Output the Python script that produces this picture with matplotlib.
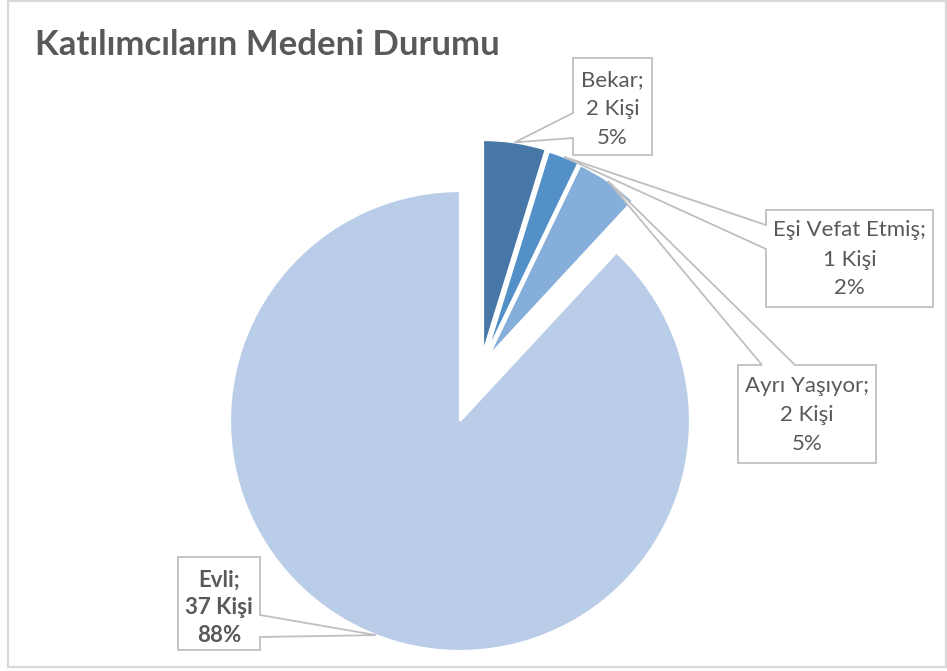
import numpy as np
import matplotlib
matplotlib.use("Agg")
import matplotlib.pyplot as plt
from matplotlib.patches import Polygon, Rectangle

# ---- data ----
categories = ["Bekar", "Eşi Vefat Etmiş", "Ayrı Yaşıyor", "Evli"]
counts = [2, 1, 2, 37]
percent_labels = ["5%", "2%", "5%", "88%"]
title = "Katılımcıların Medeni Durumu"

colors = ["#4677a7", "#5490c8", "#86aedb", "#b9cde8"]

W, H = 947, 671
def Y(y):
    return H - y

fig = plt.figure(figsize=(W / 100, H / 100), dpi=100)
ax = fig.add_axes([0, 0, 1, 1])
ax.set_xlim(0, W)
ax.set_ylim(0, H)
ax.set_aspect("equal")
ax.axis("off")

FONT = "Lato"
TXT = "#595959"
EDGE = "#bfbfbf"

# chart border
ax.add_patch(Rectangle((8, Y(667)), 938, 666, fill=False, edgecolor="#d9d9d9", lw=1.6, zorder=0))

wedges, _ = ax.pie(counts, startangle=90, counterclock=False, colors=colors,
                   center=(460, Y(421)), radius=230,
                   wedgeprops=dict(edgecolor="white", linewidth=1.6))
ax.set_xlim(0, W)
ax.set_ylim(0, H)

# exploded small slices (layout)
small_centers = [(483, 353), (486, 355), (488, 357)]
for w, (cx, cy) in zip(wedges[:3], small_centers):
    w.set_center((cx, Y(cy)))
    w.set_radius(213)

def tip_of(w):
    th = np.deg2rad((w.theta1 + w.theta2) / 2)
    cx, cy = w.center
    return (cx + w.r * np.cos(th), cy + w.r * np.sin(th))

# label boxes: (left, top, right, bottom), side of pointer, pointer base positions, text center y
boxes = [
    dict(box=(573, 58, 652, 155), side="left", base=(113, 138), ys=(80, 109, 138), bold=False),
    dict(box=(766, 210, 933, 307), side="left", base=(225, 249), ys=(230, 260, 288), bold=False),
    dict(box=(738, 365, 876, 463), side="top", base=(762, 795), ys=(386, 415, 444), bold=False),
    dict(box=(178, 557, 260, 650), side="right", base=(615, 637), ys=(580, 608, 636), bold=True),
]

for w, cat, n, p, b in zip(wedges, categories, counts, percent_labels, boxes):
    L, T, R, B = b["box"]
    tx, ty = tip_of(w)
    if b["side"] == "left":
        y1, y2 = b["base"]
        verts = [(L, Y(T)), (R, Y(T)), (R, Y(B)), (L, Y(B)), (L, Y(y2)), (tx, ty), (L, Y(y1))]
    elif b["side"] == "right":
        y1, y2 = b["base"]
        verts = [(L, Y(T)), (R, Y(T)), (R, Y(y1)), (tx, ty), (R, Y(y2)), (R, Y(B)), (L, Y(B))]
    else:
        x1, x2 = b["base"]
        verts = [(L, Y(T)), (x1, Y(T)), (tx, ty), (x2, Y(T)), (R, Y(T)), (R, Y(B)), (L, Y(B))]
    ax.add_patch(Polygon(verts, closed=True, facecolor="white", edgecolor=EDGE, lw=1.3, zorder=5))
    cxm = (L + R) / 2
    lines = [f"{cat};", f"{n} Kişi", p]
    for s, yy in zip(lines, b["ys"]):
        ax.text(cxm, Y(yy), s, ha="center", va="center", fontsize=16, family=FONT,
                color=TXT, fontweight="bold" if b["bold"] else "normal", zorder=6)

ax.text(35, Y(45), title, ha="left", va="center", fontsize=25, family=FONT,
        fontweight="bold", color=TXT)

fig.savefig("out.png", dpi=100, facecolor="white")
